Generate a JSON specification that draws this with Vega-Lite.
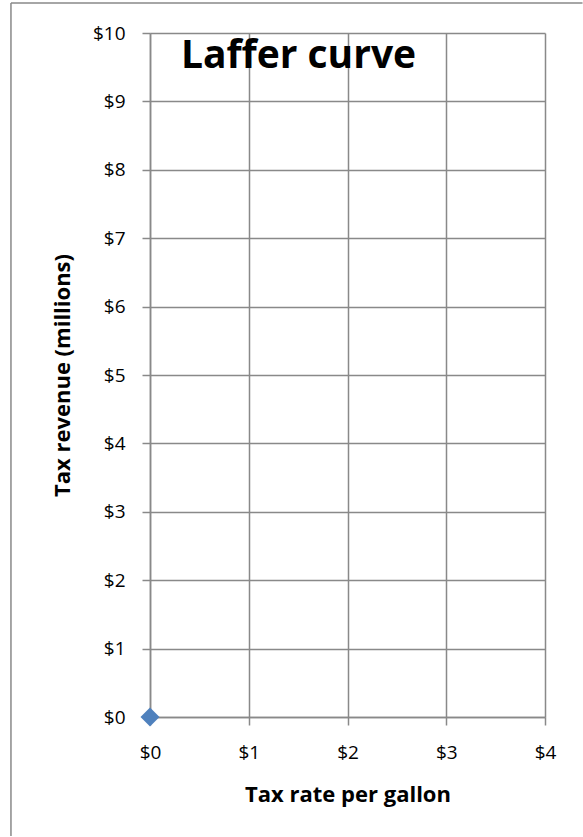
{
  "$schema": "https://vega.github.io/schema/vega-lite/v6.json",
  "width": 395,
  "height": 684,
  "autosize": {"type": "none"},
  "padding": {"left": 150, "top": 33, "right": 38, "bottom": 120},
  "background": "white",
  "config": {
    "view": {"stroke": null},
    "font": "Open Sans",
    "axis": {
      "grid": true,
      "gridColor": "#898989",
      "gridWidth": 1.5,
      "domainColor": "#898989",
      "domainWidth": 1.5,
      "tickColor": "#898989",
      "tickWidth": 1.5,
      "tickSize": 8,
      "labelFlush": false,
      "labelOverlap": false,
      "labelFont": "Open Sans",
      "labelFontSize": 19,
      "labelColor": "#000000",
      "titleFont": "Open Sans",
      "titleFontSize": 22,
      "titleFontWeight": "bold",
      "titleColor": "#000000"
    }
  },
  "datasets": {
    "points": [
      {"rate": 0, "revenue": 0}
    ],
    "heading": [
      {"label": "Laffer curve"}
    ]
  },
  "layer": [
    {
      "data": {"name": "heading"},
      "mark": {"type": "rule", "stroke": "#898989", "strokeWidth": 1.5, "clip": false},
      "encoding": {
        "x": {"datum": -1.408, "type": "quantitative"},
        "x2": {"datum": 4.38},
        "y": {"datum": 10.44, "type": "quantitative"}
      }
    },
    {
      "data": {"name": "heading"},
      "mark": {"type": "rule", "stroke": "#898989", "strokeWidth": 1.5, "clip": false},
      "encoding": {
        "x": {"datum": -1.408, "type": "quantitative"},
        "y": {"datum": 10.44, "type": "quantitative"},
        "y2": {"datum": -1.74}
      }
    },
    {
      "data": {"name": "points"},
      "mark": {
        "type": "point",
        "shape": "diamond",
        "filled": true,
        "size": 360,
        "color": "#4f81bd",
        "opacity": 1,
        "clip": false
      },
      "encoding": {
        "x": {
          "field": "rate",
          "type": "quantitative",
          "title": "Tax rate per gallon",
          "scale": {"domain": [0, 4], "nice": false, "zero": false},
          "axis": {
            "values": [0, 1, 2, 3, 4],
            "format": "$,.0f",
            "labelPadding": 18,
            "titlePadding": 22
          }
        },
        "y": {
          "field": "revenue",
          "type": "quantitative",
          "title": "Tax revenue (millions)",
          "scale": {"domain": [0, 10], "nice": false, "zero": false},
          "axis": {
            "values": [0, 1, 2, 3, 4, 5, 6, 7, 8, 9, 10],
            "format": "$,.0f",
            "labelPadding": 17,
            "titlePadding": 18
          }
        }
      }
    },
    {
      "data": {"name": "heading"},
      "mark": {
        "type": "text",
        "font": "Open Sans",
        "fontSize": 39,
        "fontWeight": "bold",
        "color": "#000000",
        "align": "center",
        "baseline": "alphabetic"
      },
      "encoding": {
        "text": {"field": "label"},
        "x": {"datum": 1.504, "type": "quantitative"},
        "y": {"datum": 9.49, "type": "quantitative"}
      }
    }
  ]
}
